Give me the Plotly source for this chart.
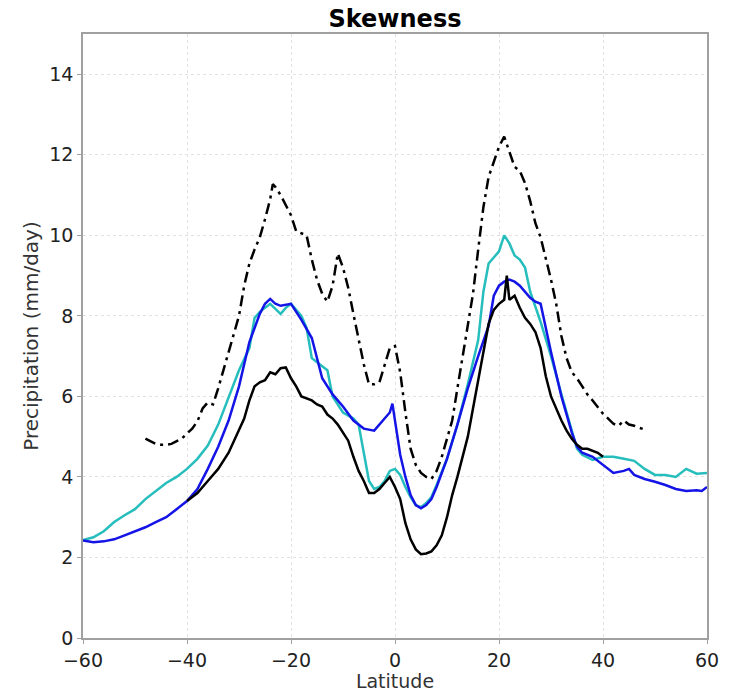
import plotly.graph_objects as go

# Cyan series
cyan_lat = [-60, -58, -56, -54, -52, -50, -48, -46, -44, -42, -40, -38, -36, -34, -32, -30, -28, -27, -26, -24, -22, -21, -20, -18, -17, -16, -14, -13, -12, -10, -8, -7, -6, -5, -4, -3, -2, -1, 0, 1, 2, 3, 4, 5, 6, 7, 8, 10, 12, 14, 16, 17, 18, 20, 21, 22, 23, 24, 25, 26, 28, 30, 32, 34, 35, 36, 38, 40, 42, 44, 46, 48, 50, 52, 54, 56, 58, 60]
cyan_val = [2.43, 2.5, 2.65, 2.88, 3.05, 3.2, 3.45, 3.65, 3.85, 4.0, 4.2, 4.45, 4.78, 5.3, 6.0, 6.65, 7.2, 7.95, 8.1, 8.3, 8.05, 8.2, 8.3, 8.0, 7.7, 6.95, 6.75, 6.65, 6.0, 5.6, 5.45, 5.3, 4.6, 3.9, 3.7, 3.75, 3.9, 4.15, 4.2, 4.05, 3.75, 3.5, 3.3, 3.25, 3.35, 3.5, 3.8, 4.45, 5.3, 6.3, 7.4, 8.6, 9.3, 9.6, 10.0, 9.8, 9.5, 9.4, 9.2, 8.6, 7.85, 7.0, 6.05, 5.15, 4.7, 4.55, 4.42, 4.5, 4.5, 4.45, 4.4, 4.2, 4.05, 4.05, 4.0, 4.2, 4.08, 4.1]

# Blue series
blue_lat = [-60, -58, -56, -54, -52, -50, -48, -46, -44, -42, -40, -38, -36, -34, -32, -30, -28, -26, -25, -24, -23, -22, -20, -18, -16, -14, -12, -10, -8, -6, -4, -2, -1, -0.5, 0, 1, 2, 3, 4, 5, 6, 7, 8, 10, 12, 14, 16, 18, 19, 20, 21, 22, 23, 24, 26, 27, 28, 30, 32, 34, 35, 36, 38, 40, 42, 44, 45, 46, 48, 50, 52, 54, 56, 58, 59, 60]
blue_val = [2.42, 2.38, 2.4, 2.45, 2.55, 2.65, 2.75, 2.88, 3.0, 3.2, 3.4, 3.7, 4.2, 4.75, 5.4, 6.25, 7.35, 8.05, 8.3, 8.42, 8.3, 8.25, 8.3, 7.9, 7.45, 6.45, 6.05, 5.75, 5.4, 5.2, 5.15, 5.45, 5.6, 5.82, 5.4, 4.55, 4.0, 3.55, 3.3, 3.22, 3.3, 3.45, 3.75, 4.45, 5.3, 6.2, 7.0, 7.75, 8.5, 8.75, 8.85, 8.9, 8.85, 8.75, 8.45, 8.35, 8.3, 7.1, 6.0, 5.1, 4.75, 4.6, 4.5, 4.3, 4.1, 4.15, 4.2, 4.05, 3.95, 3.88, 3.8, 3.7, 3.65, 3.67, 3.65, 3.75]

# Black solid series
black_lat = [-40, -39, -38, -36, -34, -32, -30, -29, -28, -27, -26, -25, -24, -23, -22, -21, -20, -19, -18, -17, -16, -15, -14, -13, -12, -11, -10, -9, -8, -7, -6, -5, -4, -3, -2, -1, 0, 1, 2, 3, 4, 5, 6, 7, 8, 9, 10, 11, 12, 13, 14, 15, 16, 17, 18, 19, 20, 21, 21.5, 22, 23, 24, 25, 26, 27, 28, 29, 30, 31, 32, 33, 34, 35, 36, 37, 38, 39, 40]
black_val = [3.4, 3.5, 3.6, 3.9, 4.2, 4.6, 5.15, 5.45, 5.9, 6.25, 6.35, 6.4, 6.6, 6.55, 6.7, 6.72, 6.45, 6.25, 6.0, 5.95, 5.9, 5.8, 5.75, 5.55, 5.45, 5.3, 5.1, 4.9, 4.5, 4.15, 3.9, 3.6, 3.6, 3.7, 3.85, 4.0, 3.75, 3.45, 2.85, 2.45, 2.2, 2.08, 2.1, 2.15, 2.3, 2.55, 3.0, 3.55, 4.0, 4.5, 5.0, 5.7, 6.4, 7.2, 7.8, 8.15, 8.3, 8.4, 9.0, 8.4, 8.5, 8.2, 7.95, 7.8, 7.6, 7.2, 6.5, 6.0, 5.7, 5.4, 5.15, 4.95, 4.8, 4.7, 4.7, 4.65, 4.6, 4.5]

# Black dash-dot series
dd_lat = [-48, -47, -46, -45, -44, -43, -42, -41, -40, -39, -38, -37, -36, -35, -34, -33, -32, -31, -30, -29, -28, -27, -26, -25, -24, -23.5, -23, -22, -21, -20, -19, -18, -17, -16, -15, -14, -13, -12, -11, -10, -9, -8, -7, -6, -5, -4, -3, -2, -1, 0, 1, 2, 3, 4, 5, 6, 7, 8, 9, 10, 11, 12, 13, 14, 15, 16, 17, 18, 19, 20, 21, 22, 23, 24, 25, 26, 27, 28, 29, 30, 31, 32, 33, 34, 35, 36, 37, 38, 39, 40, 41, 42, 43, 44, 45, 46, 47, 48]
dd_val = [4.95, 4.88, 4.82, 4.8, 4.8, 4.82, 4.88, 4.95, 5.08, 5.2, 5.38, 5.7, 5.85, 5.8, 6.2, 6.65, 7.1, 7.6, 8.0, 8.75, 9.3, 9.65, 9.95, 10.4, 10.9, 11.27, 11.2, 11.0, 10.75, 10.5, 10.1, 10.05, 10.0, 9.4, 8.9, 8.55, 8.35, 8.75, 9.55, 9.2, 8.7, 8.05, 7.45, 6.8, 6.3, 6.3, 6.35, 6.8, 7.2, 7.25, 6.6, 5.6, 4.7, 4.3, 4.1, 4.0, 3.95, 4.15, 4.5, 4.95, 5.4, 6.2, 7.0, 7.8, 8.55, 9.65, 10.7, 11.45, 11.85, 12.2, 12.45, 12.1, 11.7, 11.6, 11.3, 10.85, 10.3, 9.95, 9.45, 8.9, 8.3, 7.5, 6.95, 6.6, 6.45, 6.25, 6.05, 5.9, 5.72, 5.57, 5.45, 5.32, 5.27, 5.4, 5.3, 5.27, 5.22, 5.18]

x_ticks = [-60, -40, -20, 0, 20, 40, 60]
x_labels = ["\u221260", "\u221240", "\u221220", "0", "20", "40", "60"]
y_ticks = [0, 2, 4, 6, 8, 10, 12, 14]

fig = go.Figure()
fig.add_trace(go.Scatter(x=cyan_lat, y=cyan_val, mode="lines",
                         line=dict(color="#26BDBD", width=2.5), showlegend=False))
fig.add_trace(go.Scatter(x=blue_lat, y=blue_val, mode="lines",
                         line=dict(color="#1414E6", width=2.5), showlegend=False))
fig.add_trace(go.Scatter(x=black_lat, y=black_val, mode="lines",
                         line=dict(color="black", width=2.5), showlegend=False))
fig.add_trace(go.Scatter(x=dd_lat, y=dd_val, mode="lines",
                         line=dict(color="black", width=2.5, dash="11px,5px,3px,5px"),
                         showlegend=False))

axis_common = dict(
    showgrid=True, gridcolor="#e2e2e2", griddash="3px,3px", gridwidth=1,
    showline=True, linecolor="#a0a0a0", linewidth=1.5, mirror=True,
    ticks="outside", ticklen=4, tickcolor="#a0a0a0",
    zeroline=False, automargin=False,
    tickfont=dict(family="DejaVu Sans", size=19, color="#222222"),
)

fig.update_layout(
    width=744, height=692,
    margin=dict(l=83, r=37, t=34, b=54),
    plot_bgcolor="white", paper_bgcolor="white",
    title=dict(text="<b>Skewness</b>", x=0.5309, xanchor="center", y=0.973, yanchor="middle",
               font=dict(family="DejaVu Sans", size=24, color="black")),
    xaxis=dict(range=[-60, 60], tickvals=x_ticks, ticktext=x_labels, ticklabelstandoff=0,
               title=dict(text="Latitude", standoff=2,
                          font=dict(family="DejaVu Sans", size=19, color="#333333")),
               **axis_common),
    yaxis=dict(range=[0, 15], tickvals=y_ticks,
               title=dict(text="Precipitation (mm/day)", standoff=5,
                          font=dict(family="DejaVu Sans", size=20, color="#333333")),
               **axis_common),
)

# Remove the default 8px page margin so the figure sits at the window origin
fig.write_html("out.html", config={"displayModeBar": False},
               post_script="document.body.style.margin='0';")
